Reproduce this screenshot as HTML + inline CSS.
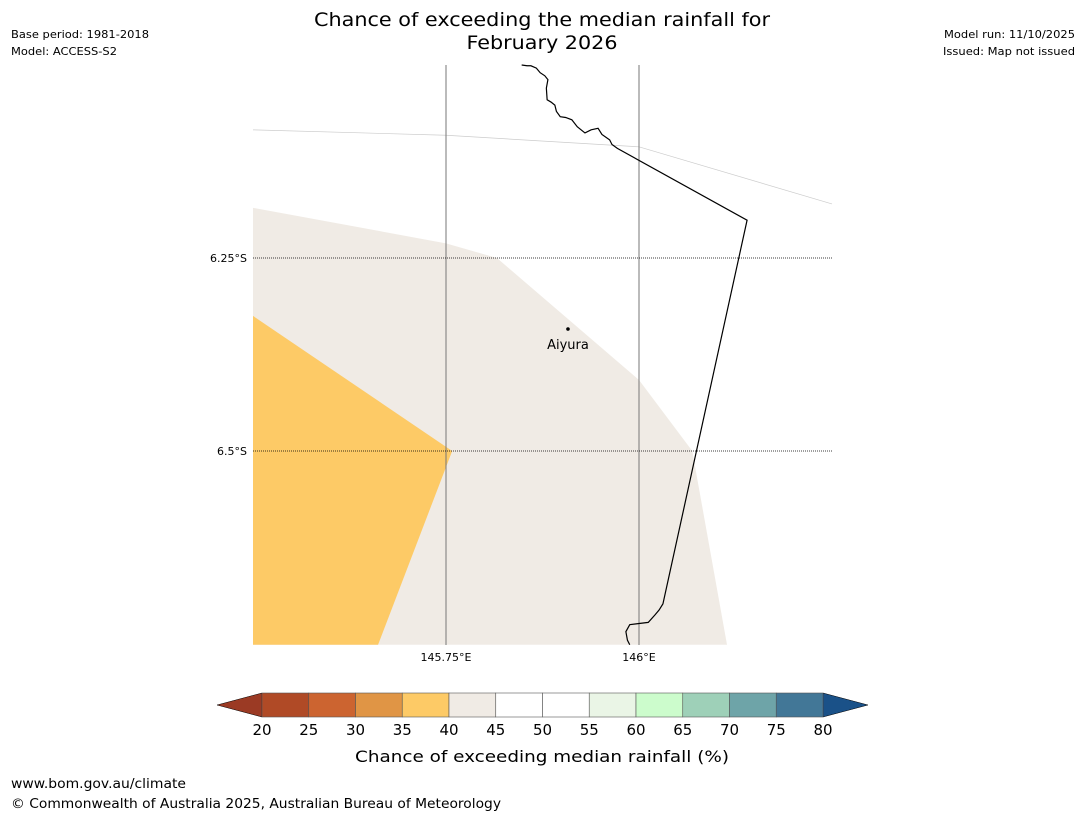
<!DOCTYPE html>
<html><head><meta charset="utf-8"><style>
body{margin:0;background:#fff;font-family:"DejaVu Sans",sans-serif}
svg{display:block;font-family:"DejaVu Sans",sans-serif}
</style></head><body>
<svg id="chart" width="1085" height="816" viewBox="0 0 1085 816">
<text x="542" y="26" font-size="19" text-anchor="middle" textLength="456" lengthAdjust="spacingAndGlyphs">Chance of exceeding the median rainfall for</text>
<text x="542" y="49" font-size="19" text-anchor="middle" textLength="151" lengthAdjust="spacingAndGlyphs">February 2026</text>
<text x="11" y="38" font-size="11" textLength="138" lengthAdjust="spacingAndGlyphs">Base period: 1981-2018</text>
<text x="11" y="55" font-size="11" textLength="106" lengthAdjust="spacingAndGlyphs">Model: ACCESS-S2</text>
<text x="1075" y="38" font-size="11" text-anchor="end" textLength="131" lengthAdjust="spacingAndGlyphs">Model run: 11/10/2025</text>
<text x="1075" y="55" font-size="11" text-anchor="end" textLength="132" lengthAdjust="spacingAndGlyphs">Issued: Map not issued</text>
<g id="map"></g>
<g id="cbar"></g>
<text x="542" y="762" font-size="16" text-anchor="middle" textLength="374" lengthAdjust="spacingAndGlyphs">Chance of exceeding median rainfall (%)</text>
<text x="11" y="788" font-size="13" textLength="175" lengthAdjust="spacingAndGlyphs">www.bom.gov.au/climate</text>
<text x="11" y="808" font-size="13" textLength="490" lengthAdjust="spacingAndGlyphs">© Commonwealth of Australia 2025, Australian Bureau of Meteorology</text>
</svg>
<script>
const lonTicks=[145.75,146.0];
const lonTickLabels=["145.75°E","146°E"];
const latTicks=[-6.25,-6.5];
const latTickLabels=["6.25°S","6.5°S"];
const beigeLon=[145.5,145.75,145.816,146.0,146.069,146.114,145.5];
const beigeLat=[-6.185,-6.231,-6.25,-6.408,-6.5,-6.751,-6.751];
const orangeLon=[145.5,145.758,145.662,145.5];
const orangeLat=[-6.325,-6.5,-6.751,-6.751];
const coastLon=[145.848,145.855,145.860,145.867,145.872,145.878,145.882,145.880,145.881,145.886,145.891,145.893,145.898,145.905,145.913,145.920,145.930,145.938,145.947,145.952,145.962,145.965,145.972,146.140,146.031,146.026,146.021,146.012,145.988,145.983,145.985,145.988];
const coastLat=[-6.0,-6.001,-6.001,-6.004,-6.010,-6.014,-6.019,-6.030,-6.045,-6.048,-6.052,-6.060,-6.067,-6.068,-6.071,-6.080,-6.088,-6.084,-6.082,-6.090,-6.097,-6.103,-6.108,-6.201,-6.698,-6.706,-6.712,-6.722,-6.725,-6.734,-6.745,-6.751];
const boundLon=[145.5,145.75,146.0,146.25];
const boundLat=[-6.084,-6.091,-6.106,-6.180];
const townName=["Aiyura"];const townLon=[145.908];const townLat=[-6.342];
const cbarLevels=[20,25,30,35,40,45,50,55,60,65,70,75,80];
const cbarColors=["#b04a26","#cc6430","#e09545","#fdca66","#f0ebe5","#ffffff","#ffffff","#eaf5e6","#ccfccc","#9ed0b8","#6ea4a8","#427797"];
const NS="http://www.w3.org/2000/svg";
const X=lon=>253+(lon-145.5)*772, Y=lat=>65+(-6.0-lat)*772;
const map=document.getElementById('map'),cb=document.getElementById('cbar');
function mk(tag,at,parent){const e=document.createElementNS(NS,tag);for(const k in at)e.setAttribute(k,at[k]);parent.appendChild(e);return e;}
function pts(lo,la){return lo.map((v,i)=>X(v)+','+Y(la[i])).join(' ');}
let e;
e=mk('polygon',{points:pts(beigeLon,beigeLat),fill:'#f0ebe5'},map);


e=mk('polygon',{points:pts(orangeLon,orangeLat),fill:'#fdca66'},map);


e=mk('polyline',{points:pts(boundLon,boundLat),fill:'none',stroke:'#ccc','stroke-width':0.7},map);


lonTicks.forEach((v,i)=>{
 let l=mk('line',{x1:X(v),x2:X(v),y1:65,y2:645,stroke:'#777','stroke-width':1},map);
 
 
 let t=mk('text',{x:X(v),y:661,'font-size':11,'text-anchor':'middle'},map);t.textContent=lonTickLabels[i];
 
 
});
latTicks.forEach((v,i)=>{
 let l=mk('line',{x1:253,x2:832,y1:Y(v),y2:Y(v),stroke:'#000','stroke-width':0.8,'stroke-dasharray':'1,1'},map);
 
 
 let t=mk('text',{x:247,y:Y(v)+4,'font-size':11,'text-anchor':'end'},map);t.textContent=latTickLabels[i];
 
 
});
e=mk('polyline',{points:pts(coastLon,coastLat),fill:'none',stroke:'#000','stroke-width':1.2},map);


townName.forEach((n,i)=>{
 let c=mk('circle',{cx:X(townLon[i]),cy:Y(townLat[i]),r:1.8,fill:'#000'},map);
 
 
 let t=mk('text',{x:X(townLon[i]),y:Y(townLat[i])+20,'font-size':13,'text-anchor':'middle'},map);t.textContent=n;
 
 
});
const C=v=>262+(v-20)*(823-262)/60, cy0=693, cy1=717;
e=mk('polygon',{points:`${C(20)},${cy0} ${C(20)},${cy1} 217,705`,fill:'#9b3a24',stroke:'#000','stroke-width':0.5},cb);


e=mk('polygon',{points:`${C(80)},${cy0} ${C(80)},${cy1} 868,705`,fill:'#1a5188',stroke:'#000','stroke-width':0.5},cb);


cbarColors.forEach((c,i)=>{
 let r=mk('rect',{x:C(cbarLevels[i]),y:cy0,width:C(cbarLevels[i+1])-C(cbarLevels[i]),height:cy1-cy0,fill:c,stroke:'#555','stroke-width':0.6},cb);
 
 
});
cbarLevels.forEach(v=>{
 let t=mk('text',{x:C(v),y:735,'font-size':15,'text-anchor':'middle'},cb);t.textContent=v;
 
 
});
</script>
</body></html>
